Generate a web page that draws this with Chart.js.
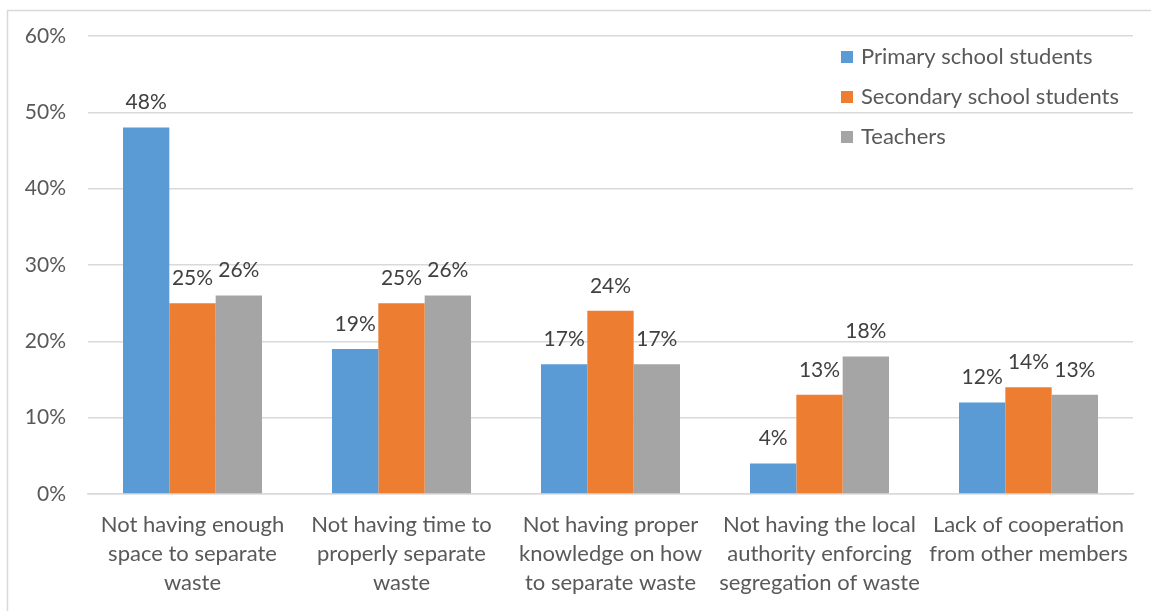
<!DOCTYPE html>
<html>
<head>
<meta charset="utf-8">
<script src="https://cdn.jsdelivr.net/npm/chart.js@4/dist/chart.umd.min.js"></script>
<style>
  html, body { margin: 0; padding: 0; background: #fff; }
  #wrap { position: relative; width: 1151px; height: 611px; }
</style>
</head>
<body>
<div id="wrap"><canvas id="c" width="1151" height="611"></canvas></div>
<script>
const categories = [
  ["Not having enough", "space to separate", "waste"],
  ["Not having time to", "properly separate", "waste"],
  ["Not having proper", "knowledge on how", "to separate waste"],
  ["Not having the local", "authority enforcing", "segregation of waste"],
  ["Lack of cooperation", "from other members"]
];
const seriesNames = ["Primary school students", "Secondary school students", "Teachers"];
const primary = [48, 19, 17, 4, 12];
const secondary = [25, 25, 24, 13, 14];
const teachers = [26, 26, 17, 18, 13];
const yTicks = [0, 10, 20, 30, 40, 50, 60];

const colors = ["#5B9BD5", "#ED7D31", "#A5A5A5"];
const FONT = "Lato, 'Open Sans', sans-serif";

const frame = {
  id: 'frame',
  beforeDraw(chart) {
    const ctx = chart.ctx;
    ctx.save();
    ctx.fillStyle = '#fff';
    ctx.fillRect(0, 0, chart.width, chart.height);
    ctx.strokeStyle = '#d9d9d9';
    ctx.lineWidth = 1.5;
    ctx.strokeRect(7.5, 10.5, 3000, 3000);
    ctx.restore();
  }
};

const labelsPlugin = {
  id: 'valueLabels',
  afterDatasetsDraw(chart) {
    const ctx = chart.ctx;
    ctx.save();
    ctx.font = "21px " + FONT;
    ctx.fillStyle = '#404040';
    ctx.textAlign = 'center';
    ctx.textBaseline = 'middle';
    chart.data.datasets.forEach((ds, i) => {
      chart.getDatasetMeta(i).data.forEach((bar, j) => {
        ctx.fillText(ds.data[j] + '%', bar.x, bar.y - 25);
      });
    });
    ctx.restore();
  }
};

const legendPlugin = {
  id: 'insideLegend',
  afterDraw(chart) {
    const ctx = chart.ctx;
    ctx.save();
    ctx.font = "22px " + FONT;
    ctx.textBaseline = 'middle';
    ctx.textAlign = 'left';
    chart.data.datasets.forEach((ds, i) => {
      const y = 57 + i * 40;
      ctx.fillStyle = ds.backgroundColor;
      ctx.fillRect(841, y - 6, 12, 12);
      ctx.fillStyle = '#595959';
      ctx.fillText(ds.label, 861, y);
    });
    ctx.restore();
  }
};

new Chart(document.getElementById('c'), {
  type: 'bar',
  data: {
    labels: categories,
    datasets: [
      { label: seriesNames[0], data: primary, backgroundColor: colors[0] },
      { label: seriesNames[1], data: secondary, backgroundColor: colors[1] },
      { label: seriesNames[2], data: teachers, backgroundColor: colors[2] }
    ]
  },
  options: {
    responsive: false,
    animation: false,
    devicePixelRatio: 1,
    layout: { padding: { top: 36, right: 18, left: 0, bottom: 0 } },
    datasets: { bar: { categoryPercentage: 0.665, barPercentage: 1.0, borderWidth: 0 } },
    plugins: {
      legend: { display: false },
      tooltip: { enabled: false }
    },
    scales: {
      x: {
        grid: { display: false, drawTicks: false },
        border: { display: true, color: '#d9d9d9', width: 1.5 },
        ticks: {
          color: '#595959',
          font: { family: FONT, size: 22, lineHeight: 1.32 },
          padding: 16,
          maxRotation: 0,
          autoSkip: false
        },
        afterFit(scale) { scale.height = 117; }
      },
      y: {
        min: 0,
        max: 60,
        afterBuildTicks(scale) { scale.ticks = yTicks.map(v => ({ value: v })); },
        grid: { color: '#d9d9d9', lineWidth: 1.5, drawTicks: false },
        border: { display: false },
        ticks: {
          color: '#595959',
          font: { family: FONT, size: 21 },
          padding: 22,
          callback: v => v + '%'
        },
        afterFit(scale) { scale.width = 88; }
      }
    }
  },
  plugins: [frame, labelsPlugin, legendPlugin]
});
</script>
</body>
</html>
